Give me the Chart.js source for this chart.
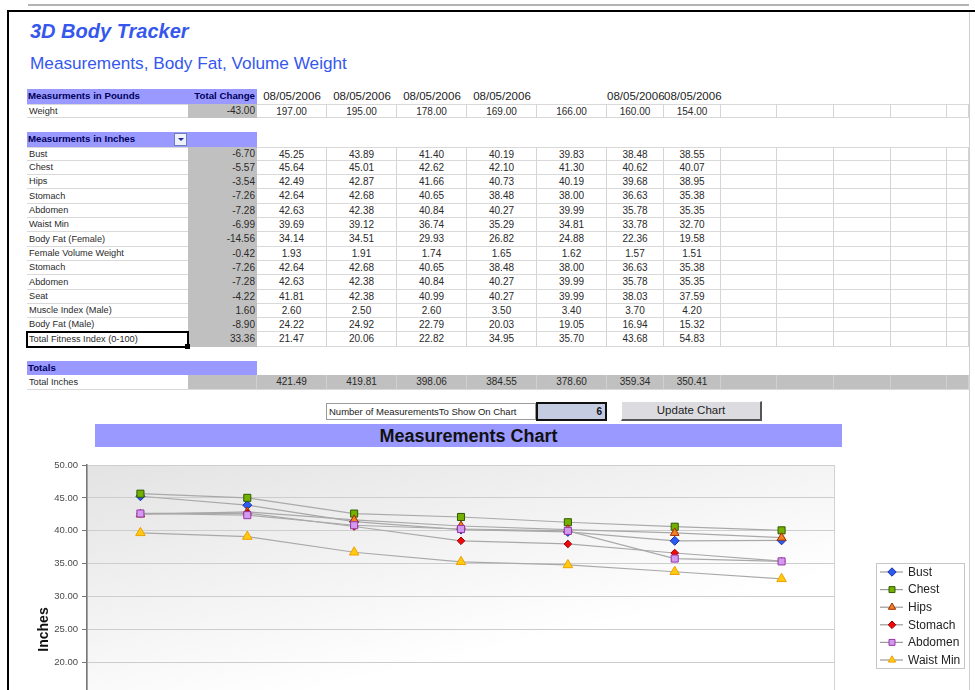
<!DOCTYPE html>
<html>
<head>
<meta charset="utf-8">
<title>3D Body Tracker</title>
<script src="https://cdn.jsdelivr.net/npm/chart.js@4/dist/chart.umd.min.js"></script>
<style>
html, body { margin: 0; padding: 0; background: #fff; }
body { width: 975px; height: 690px; overflow: hidden; position: relative; font-family: "Liberation Sans", Arial, sans-serif; }
.abs { position: absolute; }
.cell { position: absolute; box-sizing: border-box; overflow: hidden; white-space: nowrap; font-size: 10px; color: #2a2a2a; padding: 0 2px; }
.lab { font-size: 9.2px; }
.hdr { background: #9999ff; color: #00005a; font-weight: bold; font-size: 9.7px; }
.gray { background: #c0c0c0; }
.grid { border-bottom: 1px solid #d9d9d9; }
.vline { border-right: 1px solid #d4d4d4; }
.date { font-size: 11.5px; color: #222; text-align: center; overflow: visible; padding: 0; }
.num { text-align: center; }
.right { text-align: right; }
</style>
</head>
<body>

<!-- cadre -->
<div class="abs" style="left:28px;top:4px;width:941px;height:2px;background:#b4b4b4"></div>
<div class="abs" style="left:7px;top:10px;width:968px;height:2px;background:#000"></div>
<div class="abs" style="left:7px;top:10px;width:2px;height:680px;background:#000"></div>
<div class="abs" style="left:969px;top:12px;width:1px;height:678px;background:#cfcfcf"></div>

<div class="abs" style="left:30px;top:20px;font-size:20px;font-weight:bold;font-style:italic;color:#3557ee">3D Body Tracker</div>
<div class="abs" style="left:30px;top:53px;font-size:17.2px;color:#3557ee">Measurements, Body Fat, Volume Weight</div>

<div id="sheet"></div>

<!-- controles -->
<div class="abs" style="left:326px;top:403px;width:210px;height:17px;box-sizing:border-box;border:1px solid #9a9a9a;background:#fff;font-size:9.5px;line-height:15px;padding-left:2px;color:#222;white-space:nowrap">Number of MeasurementsTo Show On Chart</div>
<div class="abs" style="left:536px;top:402px;width:71px;height:19px;box-sizing:border-box;border:2px solid #111;background:#c4cce2;font-size:10px;font-weight:bold;line-height:15px;text-align:right;padding-right:3px;color:#111">6</div>
<div class="abs" style="left:621px;top:401px;width:141px;height:20px;box-sizing:border-box;background:#dcdce0;border-top:1px solid #fff;border-left:1px solid #fff;border-right:2px solid #555;border-bottom:2px solid #555;font-size:11.5px;line-height:17px;text-align:center;color:#222">Update Chart</div>

<div class="abs" style="left:95px;top:424px;width:747px;height:23px;background:#9999ff;font-size:18px;font-weight:bold;line-height:24px;text-align:center;color:#111">Measurements Chart</div>

<div class="abs" style="left:28px;top:450px;width:942px;height:380px">
  <canvas id="chart" width="942" height="380"></canvas>
</div>

<script>
// Données du tableau
var dates = ["08/05/2006", "08/05/2006", "08/05/2006", "08/05/2006", "", "08/05/2006", "08/05/2006"];

var weight = [197.00, 195.00, 178.00, 169.00, 166.00, 160.00, 154.00];
var weightChange = -43.00;

var bust = [45.25, 43.89, 41.40, 40.19, 39.83, 38.48, 38.55];
var chest = [45.64, 45.01, 42.62, 42.10, 41.30, 40.62, 40.07];
var hips = [42.49, 42.87, 41.66, 40.73, 40.19, 39.68, 38.95];
var stomach = [42.64, 42.68, 40.65, 38.48, 38.00, 36.63, 35.38];
var abdomen = [42.63, 42.38, 40.84, 40.27, 39.99, 35.78, 35.35];
var waistMin = [39.69, 39.12, 36.74, 35.29, 34.81, 33.78, 32.70];
var bodyFatFemale = [34.14, 34.51, 29.93, 26.82, 24.88, 22.36, 19.58];
var femaleVolume = [1.93, 1.91, 1.74, 1.65, 1.62, 1.57, 1.51];
var seat = [41.81, 42.38, 40.99, 40.27, 39.99, 38.03, 37.59];
var muscleIndex = [2.60, 2.50, 2.60, 3.50, 3.40, 3.70, 4.20];
var bodyFatMale = [24.22, 24.92, 22.79, 20.03, 19.05, 16.94, 15.32];
var fitnessIndex = [21.47, 20.06, 22.82, 34.95, 35.70, 43.68, 54.83];

var inchLabels = ["Bust", "Chest", "Hips", "Stomach", "Abdomen", "Waist Min", "Body Fat (Female)",
  "Female Volume Weight", "Stomach", "Abdomen", "Seat", "Muscle Index (Male)", "Body Fat (Male)",
  "Total Fitness Index (0-100)"];
var inchChange = [-6.70, -5.57, -3.54, -7.26, -7.28, -6.99, -14.56, -0.42, -7.26, -7.28, -4.22, 1.60, -8.90, 33.36];
var inchValues = [bust, chest, hips, stomach, abdomen, waistMin, bodyFatFemale, femaleVolume,
  stomach, abdomen, seat, muscleIndex, bodyFatMale, fitnessIndex];

var totalInches = [421.49, 419.81, 398.06, 384.55, 378.60, 359.34, 350.41];

// Séries du graphique
var chartLabels = ["Bust", "Chest", "Hips", "Stomach", "Abdomen", "Waist Min"];
var chartSeries = [bust, chest, hips, stomach, abdomen, waistMin];

// 1. Tableau (grille façon tableur)

var rowTop = 89.3;
var rowH = 14.3;
var colX = [27, 188, 257, 327, 397, 467, 537, 607, 664, 721, 777, 834, 891, 947, 969];
var sheet = document.getElementById("sheet");

function rowY(row) { return Math.round(rowTop + row * rowH); }

function addCell(row, c1, c2, text, cls, extra) {
  var d = document.createElement("div");
  var top = rowY(row);
  var h = rowY(row + 1) - top;
  d.className = "cell " + (cls || "");
  d.style.left = colX[c1] + "px";
  d.style.width = (colX[c2] - colX[c1]) + "px";
  d.style.top = top + "px";
  d.style.height = h + "px";
  d.style.lineHeight = (h - 1) + "px";
  if (extra) d.style.cssText += extra;
  d.textContent = text;
  sheet.appendChild(d);
  return d;
}

function fmt(v) { return v.toFixed(2); }

function dataRow(row, label, change, values, topLine) {
  var t = topLine ? "border-top:1px solid #d9d9d9;" : "";
  addCell(row, 0, 1, label, "grid lab", t);
  addCell(row, 1, 2, fmt(change), "gray right");
  for (var c = 2; c < colX.length - 1; c++) {
    var v = values[c - 2];
    addCell(row, c, c + 1, v !== undefined ? fmt(v) : "", "grid vline num", t);
  }
}

// en-tête livres
addCell(0, 0, 1, "Measurments in Pounds", "hdr", "padding-left:1px;");
addCell(0, 1, 2, "Total Change", "hdr right");
dates.forEach(function(d, i) { addCell(0, i + 2, i + 3, d, "date"); });

dataRow(1, "Weight", weightChange, weight, true);

// en-tête pouces
addCell(3, 0, 1, "Measurments in Inches", "hdr", "padding-left:1px;");
addCell(3, 1, 2, "", "hdr");
inchLabels.forEach(function(lab, i) {
  dataRow(4 + i, lab, inchChange[i], inchValues[i], i === 0);
});

// totaux
addCell(19, 0, 2, "Totals", "hdr", "padding-left:1px;");
addCell(20, 0, 1, "Total Inches", "grid lab");
for (var c = 1; c < colX.length - 1; c++) {
  var v = totalInches[c - 2];
  addCell(20, c, c + 1, v !== undefined ? fmt(v) : "", "gray num",
    "border-right:1px solid #d0d0d0;border-bottom:1px solid #d9d9d9;");
}

// bouton de liste déroulante
var dd = document.createElement("div");
dd.className = "abs";
dd.style.cssText = "left:174px;top:133px;width:13px;height:13px;box-sizing:border-box;border:1px solid #6c7fb8;background:#eef1fb;";
dd.innerHTML = '<div style="position:absolute;left:3px;top:4px;width:0;height:0;border-left:3px solid transparent;border-right:3px solid transparent;border-top:3px solid #1a2a9e"></div>';
sheet.appendChild(dd);

// cellule sélectionnée
var sel = document.createElement("div");
sel.className = "abs";
sel.style.cssText = "left:26px;top:" + (rowY(17) - 1) + "px;width:163px;height:" + (rowY(18) - rowY(17) + 2) + "px;box-sizing:border-box;border:2px solid #000;";
sheet.appendChild(sel);
var handle = document.createElement("div");
handle.className = "abs";
handle.style.cssText = "left:185px;top:" + (rowY(18) - 3) + "px;width:5px;height:5px;background:#000;";
sheet.appendChild(handle);

// 2. Graphique

var markers = [
  { style: "rectRot", radius: 4.5, fill: "#2b5cf2", stroke: "#1b2f9e" },
  { style: "rect", radius: 5, fill: "#74b000", stroke: "#2f5a00" },
  { style: "triangle", radius: 5, fill: "#f08424", stroke: "#a52a00" },
  { style: "rectRot", radius: 3.8, fill: "#ee0a0a", stroke: "#a00000" },
  { style: "rect", radius: 5, fill: "#d49af0", stroke: "#9636a8" },
  { style: "triangle", radius: 5.5, fill: "#ffca10", stroke: "#f0a000" }
];

Chart.defaults.font.family = "'Liberation Sans', Arial, sans-serif";

var datasets = chartSeries.map(function(values, i) {
  var m = markers[i];
  return {
    label: chartLabels[i],
    data: values,
    borderColor: "#a9a9a9",
    borderWidth: 1.2,
    tension: 0,
    fill: false,
    pointStyle: m.style,
    pointRadius: m.radius,
    pointBackgroundColor: m.fill,
    pointBorderColor: m.stroke,
    pointBorderWidth: 1,
    order: chartSeries.length - i
  };
});

// fond dégradé de la zone de tracé
var plotBackground = {
  id: "plotBackground",
  beforeDraw: function(chart) {
    var a = chart.chartArea;
    var ctx = chart.ctx;
    var g = ctx.createLinearGradient(a.left, a.top, a.left + 60, a.top + 265);
    g.addColorStop(0, "#e3e3e3");
    g.addColorStop(1, "#ffffff");
    ctx.save();
    ctx.fillStyle = g;
    ctx.fillRect(a.left, a.top, a.right - a.left, a.bottom - a.top);
    ctx.strokeStyle = "#d2d2d2";
    ctx.lineWidth = 1;
    ctx.strokeRect(a.left + 0.5, a.top + 0.5, a.right - a.left - 1, a.bottom - a.top - 1);
    ctx.restore();
  }
};

// légende encadrée, trait + marqueur
var boxLegend = {
  id: "boxLegend",
  afterDraw: function(chart) {
    var ctx = chart.ctx;
    var x0 = 848, y0 = 113, w = 89, h = 106;
    ctx.save();
    ctx.fillStyle = "#fff";
    ctx.fillRect(x0, y0, w, h);
    ctx.strokeStyle = "#c6c6c6";
    ctx.lineWidth = 1;
    ctx.strokeRect(x0 + 0.5, y0 + 0.5, w - 1, h - 1);
    chart.data.datasets.forEach(function(ds, i) {
      var y = y0 + 9 + i * 17.6;
      ctx.strokeStyle = "#9a9a9a";
      ctx.lineWidth = 1.2;
      ctx.beginPath();
      ctx.moveTo(x0 + 4, y);
      ctx.lineTo(x0 + 27, y);
      ctx.stroke();
      ctx.fillStyle = ds.pointBackgroundColor;
      ctx.strokeStyle = ds.pointBorderColor;
      ctx.lineWidth = 1;
      Chart.helpers.drawPoint(ctx, {
        pointStyle: ds.pointStyle,
        radius: Math.min(ds.pointRadius, 4.2),
        borderWidth: 1,
        rotation: 0
      }, x0 + 16, y);
      ctx.fillStyle = "#222";
      ctx.font = "12px 'Liberation Sans', Arial, sans-serif";
      ctx.textBaseline = "middle";
      ctx.textAlign = "left";
      ctx.fillText(ds.label, x0 + 32, y + 0.5);
    });
    ctx.restore();
  }
};

new Chart(document.getElementById("chart").getContext("2d"), {
  type: "line",
  data: { labels: dates, datasets: datasets },
  options: {
    responsive: false,
    animation: false,
    events: [],
    layout: { padding: { top: 15, right: 135, left: 0, bottom: 0 } },
    plugins: { legend: { display: false }, tooltip: { enabled: false } },
    scales: {
      x: {
        offset: true,
        grid: { display: false },
        border: { display: false },
        ticks: { color: "#444", font: { size: 10 } },
        afterFit: function(s) { s.height = 36; }
      },
      y: {
        min: 0,
        max: 50,
        ticks: {
          stepSize: 5,
          padding: 4,
          color: "#4a4a4a",
          font: { size: 9.5 },
          callback: function(v) { return Number(v).toFixed(2); }
        },
        grid: { color: "#cdcdcd", tickLength: 5, tickColor: "#777" },
        border: { color: "#777", width: 1.5 },
        title: {
          display: true,
          text: "Inches",
          color: "#111",
          font: { size: 14, weight: "bold" },
          padding: { top: 8, bottom: 0 }
        },
        afterFit: function(s) { s.width = 59; }
      }
    }
  },
  plugins: [plotBackground, boxLegend]
});
</script>
</body>
</html>
